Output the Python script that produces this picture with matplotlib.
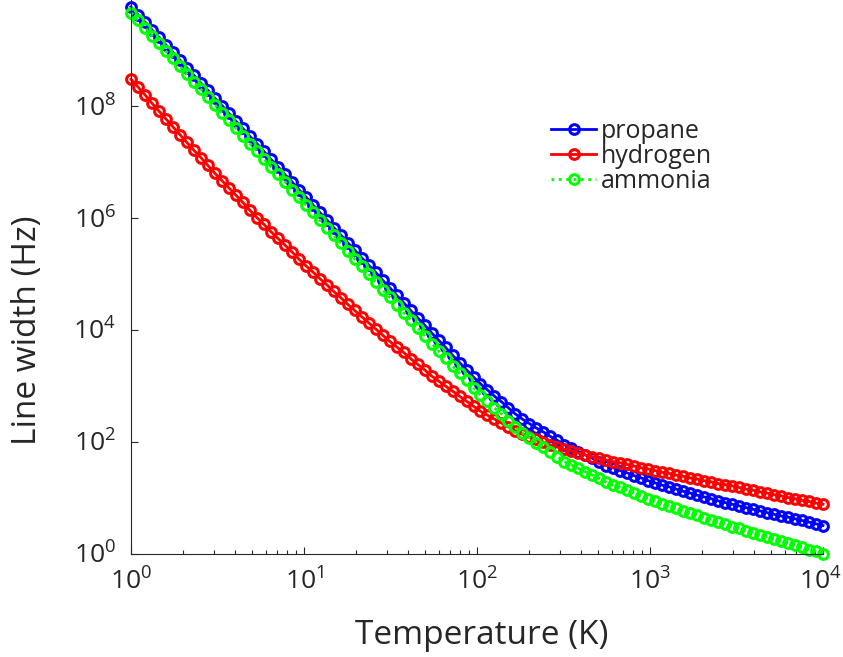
import numpy as np
import matplotlib
matplotlib.use('Agg')
import matplotlib.pyplot as plt
import matplotlib.transforms as mtransforms
from matplotlib.ticker import FixedLocator, NullLocator

plt.rcParams['font.family'] = ['Open Sans', 'DejaVu Sans']
plt.rcParams['mathtext.default'] = 'regular'

# temperature grid (K), 100 points per series, log spaced 1 .. 1e4
temperature = np.logspace(0, 4, 100)

# log10 of line width (Hz)
propane_log = [
    9.76, 9.62, 9.49, 9.35, 9.22, 9.08, 8.95, 8.81, 8.67, 8.54,
    8.40, 8.27, 8.13, 8.00, 7.86, 7.72, 7.59, 7.45, 7.32, 7.18,
    7.04, 6.91, 6.77, 6.64, 6.50, 6.37, 6.23, 6.09, 5.96, 5.82,
    5.69, 5.55, 5.42, 5.28, 5.15, 5.02, 4.88, 4.75, 4.61, 4.48,
    4.34, 4.21, 4.08, 3.94, 3.81, 3.68, 3.54, 3.41, 3.28, 3.15,
    3.03, 2.92, 2.81, 2.71, 2.60, 2.49, 2.40, 2.32, 2.24, 2.17,
    2.09, 2.02, 1.94, 1.88, 1.82, 1.76, 1.70, 1.64, 1.57, 1.53,
    1.48, 1.44, 1.39, 1.35, 1.30, 1.26, 1.22, 1.19, 1.15, 1.11,
    1.08, 1.04, 1.01, 0.98, 0.94, 0.91, 0.88, 0.85, 0.82, 0.79,
    0.76, 0.73, 0.70, 0.67, 0.65, 0.62, 0.59, 0.56, 0.53, 0.50,
]
hydrogen_log = [
    8.47, 8.33, 8.19, 8.04, 7.90, 7.76, 7.62, 7.48, 7.34, 7.20,
    7.07, 6.93, 6.79, 6.66, 6.53, 6.40, 6.27, 6.13, 6.00, 5.88,
    5.75, 5.63, 5.51, 5.39, 5.26, 5.14, 5.03, 4.91, 4.80, 4.68,
    4.57, 4.45, 4.34, 4.23, 4.12, 4.01, 3.90, 3.79, 3.69, 3.59,
    3.48, 3.38, 3.28, 3.17, 3.08, 2.99, 2.90, 2.81, 2.72, 2.63,
    2.54, 2.47, 2.40, 2.33, 2.26, 2.19, 2.13, 2.08, 2.04, 1.99,
    1.94, 1.90, 1.86, 1.83, 1.79, 1.76, 1.73, 1.70, 1.67, 1.64,
    1.62, 1.59, 1.56, 1.53, 1.51, 1.48, 1.45, 1.43, 1.40, 1.38,
    1.35, 1.33, 1.30, 1.28, 1.25, 1.23, 1.21, 1.18, 1.15, 1.13,
    1.10, 1.08, 1.05, 1.03, 1.00, 0.98, 0.95, 0.93, 0.90, 0.88,
]
ammonia_log = [
    9.66, 9.52, 9.39, 9.25, 9.11, 8.97, 8.84, 8.70, 8.56, 8.42,
    8.29, 8.15, 8.01, 7.87, 7.74, 7.60, 7.46, 7.32, 7.19, 7.05,
    6.91, 6.78, 6.64, 6.50, 6.36, 6.23, 6.09, 5.95, 5.81, 5.68,
    5.54, 5.40, 5.26, 5.13, 4.99, 4.85, 4.71, 4.58, 4.44, 4.30,
    4.17, 4.03, 3.89, 3.75, 3.62, 3.49, 3.35, 3.22, 3.09, 2.96,
    2.83, 2.72, 2.60, 2.49, 2.37, 2.26, 2.15, 2.07, 1.98, 1.90,
    1.81, 1.73, 1.64, 1.58, 1.52, 1.46, 1.40, 1.34, 1.27, 1.22,
    1.18, 1.13, 1.08, 1.03, 0.98, 0.94, 0.89, 0.85, 0.81, 0.76,
    0.72, 0.68, 0.64, 0.60, 0.56, 0.52, 0.48, 0.45, 0.41, 0.37,
    0.33, 0.30, 0.26, 0.22, 0.19, 0.15, 0.11, 0.07, 0.04, 0.00,
]

series = [
    ('propane', propane_log, '#0000ff', '-'),
    ('hydrogen', hydrogen_log, '#ff0000', '-'),
    ('ammonia', ammonia_log, '#00ff00', ':'),
]

W, H = 843, 657
fig = plt.figure(figsize=(W / 100, H / 100), dpi=100)
ax = fig.add_axes([131 / W, (H - 553.5) / H, 692 / W, 560 / H])

for name, vals, col, ls in series:
    ax.plot(temperature, 10 ** np.array(vals), ls, color=col, lw=2,
            marker='o', ms=7, mew=2.2, mfc='none', mec=col,
            label=name, clip_on=False)

ax.set_xscale('log')
ax.set_yscale('log')
ax.set_xlim(1, 1e4)
ax.set_ylim(1, 1e10)

ink = '#262626'
ax.xaxis.set_major_locator(FixedLocator([1e0, 1e1, 1e2, 1e3, 1e4]))
ax.xaxis.set_minor_locator(FixedLocator(
    [m * 10 ** d for d in range(4) for m in range(2, 10)]))
ax.set_xticklabels([r'$10^{%d}$' % d for d in range(5)])
ax.yaxis.set_major_locator(FixedLocator([1e0, 1e2, 1e4, 1e6, 1e8]))
ax.yaxis.set_minor_locator(NullLocator())
ax.set_yticklabels([r'$10^{%d}$' % d for d in range(0, 10, 2)])

ax.tick_params(which='both', direction='in', colors=ink, width=0.8)
ax.tick_params(which='major', length=5, labelsize=19)
ax.tick_params(which='minor', length=3)
ax.tick_params(axis='x', pad=11)
ax.tick_params(axis='y', pad=11)

# keep the last x label inside the canvas
last = ax.get_xticklabels()[-1]
last.set_transform(last.get_transform() +
                   mtransforms.ScaledTranslation(-3 / 100, 0, fig.dpi_scale_trans))

for s in ['top', 'right']:
    ax.spines[s].set_visible(False)
for s in ['left', 'bottom']:
    ax.spines[s].set_color(ink)
    ax.spines[s].set_linewidth(0.8)

fig.text(482 / W, 1 - 635 / H, 'Temperature (K)', fontsize=24, color=ink,
         ha='center', va='center')
fig.text(28 / W, 1 - 330 / H, 'Line width (Hz)', fontsize=24, color=ink,
         ha='center', va='center', rotation=90)

leg = ax.legend(loc='upper left', bbox_to_anchor=(551 / W, 1 - 119 / H),
                bbox_transform=fig.transFigure, frameon=False, fontsize=18,
                handlelength=1.8, handletextpad=0.2, labelspacing=0.0,
                borderpad=0, borderaxespad=0)
for t in leg.get_texts():
    t.set_color(ink)

fig.savefig('out.png', dpi=100)
